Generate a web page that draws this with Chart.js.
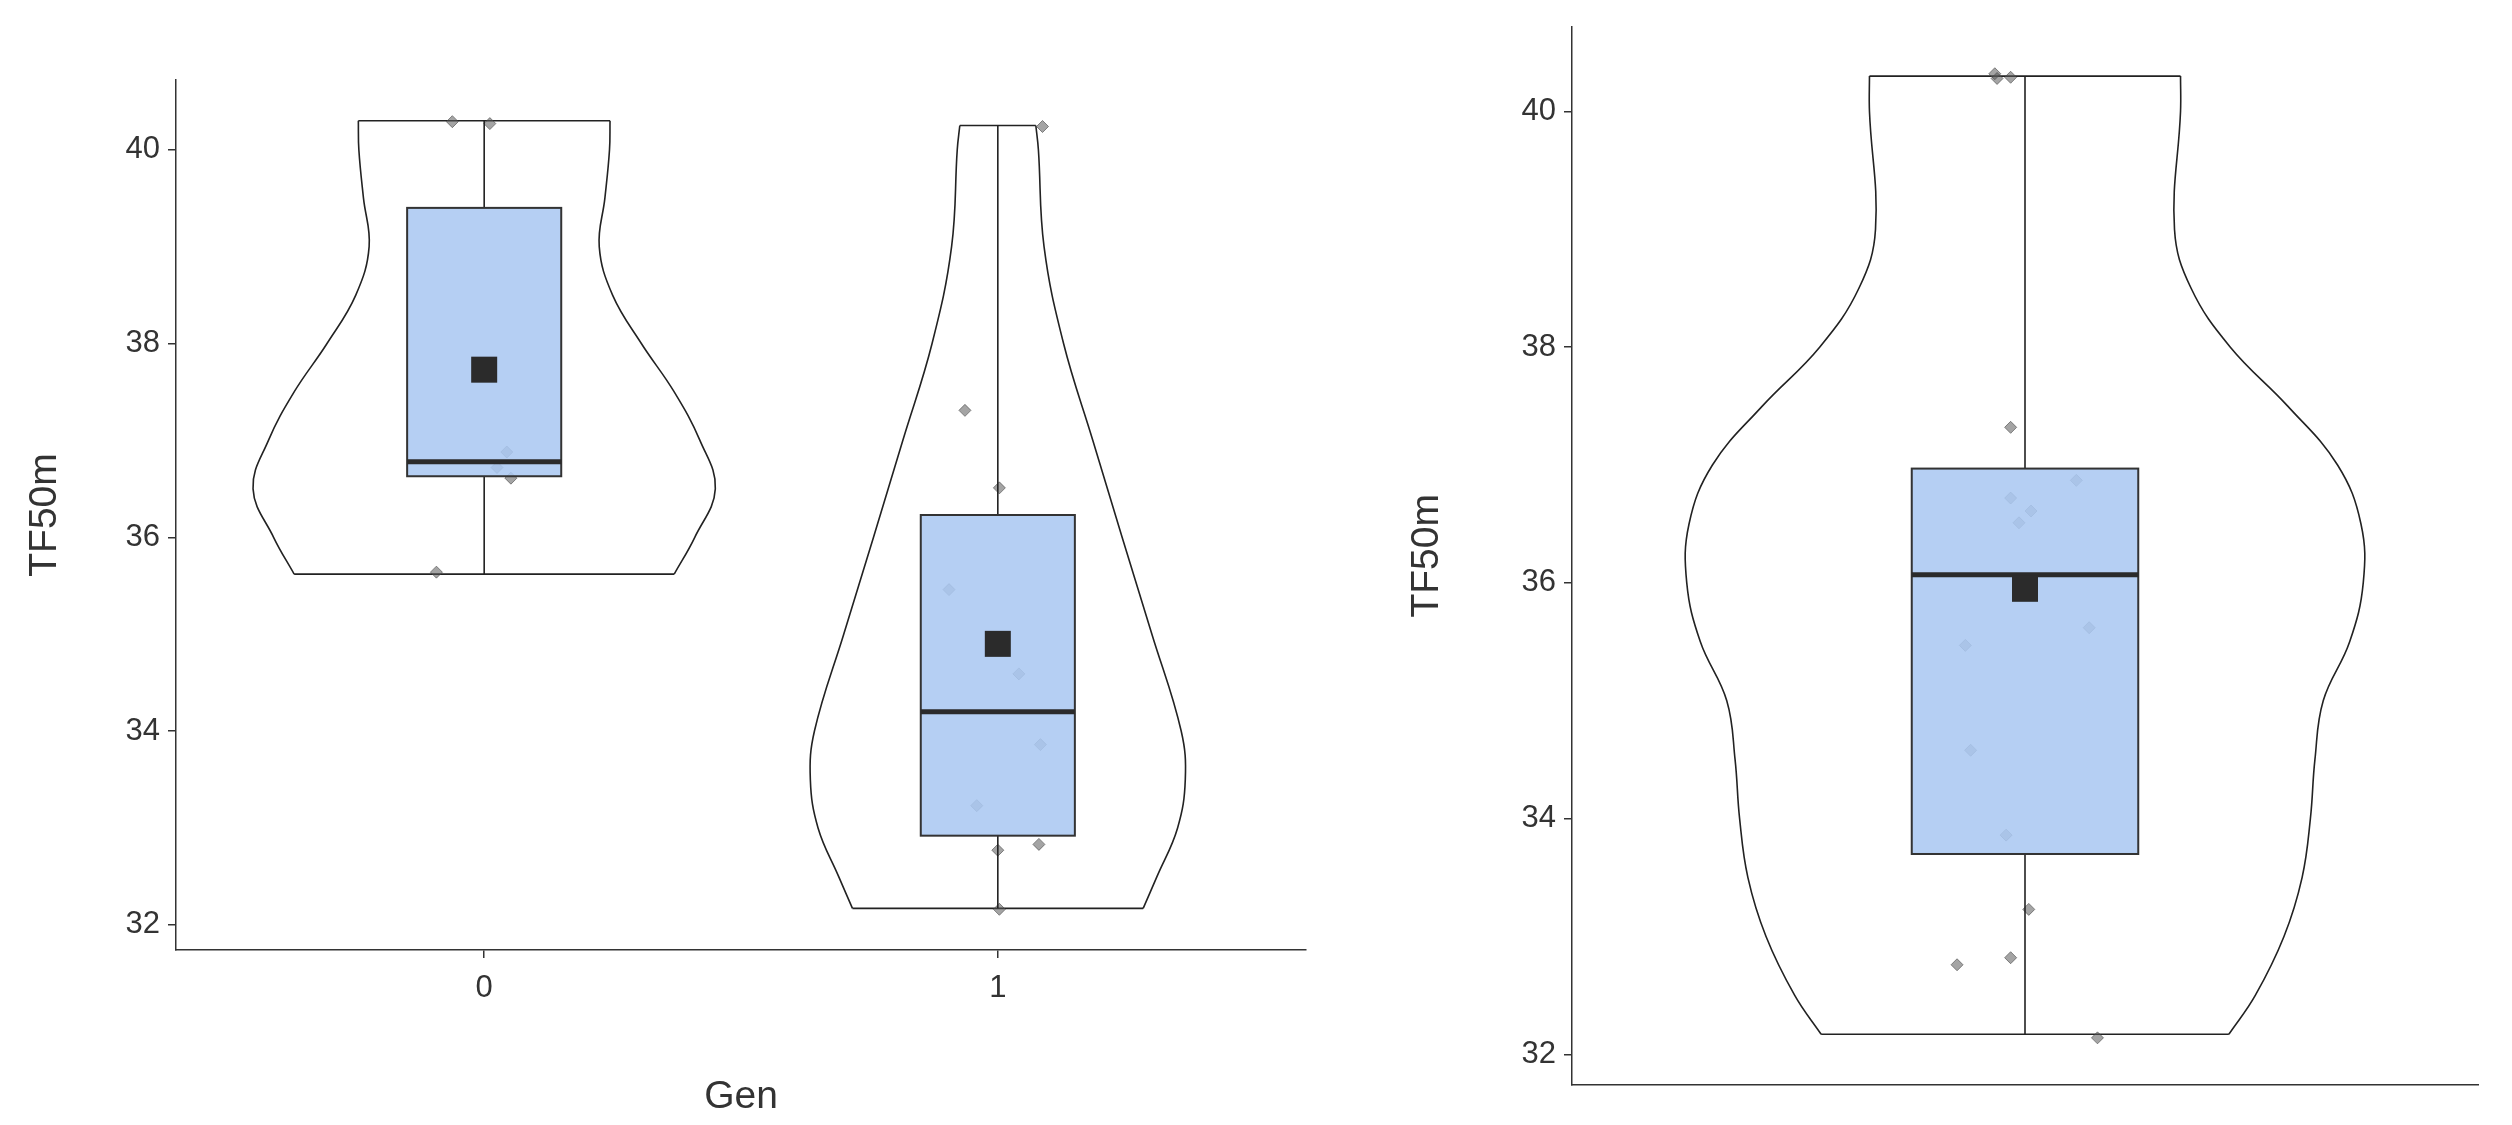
<!DOCTYPE html>
<html><head><meta charset="utf-8">
<script src="https://cdn.jsdelivr.net/npm/chart.js@4"></script>
<style>body{margin:0;background:#fff;width:2512px;height:1125px;overflow:hidden;position:relative;font-family:Arial,"Liberation Sans",sans-serif}
canvas{position:absolute;top:0}</style></head><body>
<canvas id="c1" style="left:0;width:1330px;height:1125px" width="1330" height="1125"></canvas>
<canvas id="c2" style="left:1340px;width:1172px;height:1125px" width="1172" height="1125"></canvas>
<script>
// ---- data ----
const categories = ["0", "1"];
const yTicks = [32, 34, 36, 38, 40];
// jittered points: x offsets and values
const gen0Values = [40.29, 40.27, 36.88, 36.72, 36.61, 35.64];
const gen0Jitter = [-0.062, 0.011, 0.044, 0.025, 0.052, -0.093];
const gen1Values = [40.24, 37.31, 36.51, 35.46, 34.59, 33.86, 33.23, 32.83, 32.77, 32.16];
const gen1Jitter = [0.087, -0.064, 0.003, -0.095, 0.041, 0.083, -0.041, 0.08, 0, 0.003];
const allValues = [40.32, 40.28, 40.29, 37.32, 36.87, 36.72, 36.61, 36.51, 35.62, 35.47, 34.58, 33.86, 33.23, 32.76, 32.82, 32.14];
const allJitter = [-0.04, -0.037, -0.019, -0.019, 0.068, -0.019, 0.008, -0.008, 0.085, -0.079, -0.072, -0.025, 0.005, -0.09, -0.019, 0.096];
// box stats: [whiskerLow, q1, median, q3, whiskerHigh, mean]
const gen0Box = [35.62, 36.63, 36.78, 39.4, 40.3, 37.73];
const gen1Box = [32.17, 32.92, 34.2, 36.23, 40.25, 34.9];
const allBox = [32.17, 33.7, 36.07, 36.97, 40.3, 35.95];
// violin half-widths at levels
const gen0ViolinY = [35.62, 36, 36.5, 37, 37.5, 38, 38.5, 39, 39.5, 40, 40.3];
const gen0ViolinW = [0.37, 0.41, 0.45, 0.42, 0.37, 0.306, 0.25, 0.224, 0.235, 0.244, 0.245];
const gen1ViolinY = [32.17, 32.5, 33, 33.5, 34, 35, 36, 37, 38, 39, 40, 40.25];
const gen1ViolinW = [0.283, 0.31, 0.35, 0.365, 0.357, 0.3, 0.242, 0.185, 0.128, 0.09, 0.079, 0.074];
const allViolinY = [32.17, 32.5, 33, 33.5, 34, 34.5, 35, 35.5, 36, 36.5, 37, 37.5, 38, 38.5, 39, 40, 40.3];
const allViolinW = [0.27, 0.305, 0.343, 0.367, 0.378, 0.384, 0.395, 0.43, 0.448, 0.445, 0.414, 0.348, 0.272, 0.22, 0.198, 0.206, 0.206];

const BOXW = 0.15;
function seg(data, tension){
  return {type:'line', data, borderColor:'#222', borderWidth:1.6, pointRadius:0, fill:false, tension, order:3};
}
function violin(c, ys, ws){
  const n = ys.length;
  return [
    seg(ys.map((y,i)=>({x:c+ws[i], y})), 0.4),
    seg(ys.map((y,i)=>({x:c-ws[i], y})), 0.4),
    seg([{x:c-ws[0], y:ys[0]}, {x:c+ws[0], y:ys[0]}], 0),
    seg([{x:c-ws[n-1], y:ys[n-1]}, {x:c+ws[n-1], y:ys[n-1]}], 0)
  ];
}
function pts(c, vals, jit){
  return {type:'scatter', data:vals.map((v,i)=>({x:c+jit[i], y:v})), pointStyle:'rectRot', pointRadius:6,
    backgroundColor:'rgba(90,90,90,0.55)', borderColor:'rgba(70,70,70,0.6)', borderWidth:1, order:2};
}
const boxPlugin = {
  id:'boxes',
  afterDatasetsDraw(chart){
    const ctx = chart.ctx, xs = chart.scales.x, ys = chart.scales.y;
    for (const [c, b] of chart.options.plugins.boxes.list){
      const xl = xs.getPixelForValue(c-BOXW), xr = xs.getPixelForValue(c+BOXW), xc = xs.getPixelForValue(c);
      const p = v => ys.getPixelForValue(v);
      ctx.save();
      ctx.strokeStyle='#222'; ctx.lineWidth=1.6;
      ctx.beginPath(); ctx.moveTo(xc,p(b[0])); ctx.lineTo(xc,p(b[1])); ctx.moveTo(xc,p(b[3])); ctx.lineTo(xc,p(b[4])); ctx.stroke();
      ctx.fillStyle='rgba(171,200,241,0.88)';
      ctx.fillRect(xl,p(b[3]),xr-xl,p(b[1])-p(b[3]));
      ctx.strokeStyle='#333'; ctx.lineWidth=2;
      ctx.strokeRect(xl,p(b[3]),xr-xl,p(b[1])-p(b[3]));
      ctx.lineWidth=5; ctx.strokeStyle='#2b2b2b';
      ctx.beginPath(); ctx.moveTo(xl,p(b[2])); ctx.lineTo(xr,p(b[2])); ctx.stroke();
      ctx.fillStyle='#2b2b2b';
      ctx.fillRect(xc-13,p(b[5])-13,26,26);
      ctx.restore();
    }
  }
};
const tickFont = {family:'Arial, Liberation Sans', size:31};
const titleFont = {family:'Arial, Liberation Sans', size:39};
function yAxis(width){
  return {type:'linear', min:31.74, max:40.72,
    afterBuildTicks:s=>{s.ticks=yTicks.map(v=>({value:v}));},
    afterFit:s=>{s.width=width;},
    ticks:{font:tickFont, color:'#333', padding:8},
    grid:{drawOnChartArea:false, drawTicks:true, tickLength:8, color:'#333', lineWidth:1.5},
    border:{display:true, color:'#333', width:1.5},
    title:{display:true, text:'TF50m', font:titleFont, color:'#333', padding:{bottom:12}}};
}
new Chart(document.getElementById('c1'), {
  data:{datasets:[...violin(0,gen0ViolinY,gen0ViolinW), ...violin(1,gen1ViolinY,gen1ViolinW),
    pts(0,gen0Values,gen0Jitter), pts(1,gen1Values,gen1Jitter)]},
  plugins:[boxPlugin],
  options:{responsive:false, animation:false, devicePixelRatio:1,
    layout:{padding:{top:80,right:24,left:18,bottom:0}},
    plugins:{legend:{display:false}, tooltip:{enabled:false}, boxes:{list:[[0,gen0Box],[1,gen1Box]]}},
    scales:{
      x:{type:'linear', min:-0.6, max:1.6,
        afterBuildTicks:s=>{s.ticks=categories.map((c,i)=>({value:i}));},
        afterFit:s=>{s.height=175;},
        ticks:{font:tickFont, color:'#333', callback:v=>categories[v], padding:12},
        grid:{drawOnChartArea:false, drawTicks:true, tickLength:8, color:'#333', lineWidth:1.5},
        border:{display:true, color:'#333', width:1.5},
        title:{display:true, text:'Gen', font:titleFont, color:'#333', padding:{top:22}}},
      y:yAxis(158)
    }}
});
new Chart(document.getElementById('c2'), {
  data:{datasets:[...violin(0,allViolinY,allViolinW), pts(0,allValues,allJitter)]},
  plugins:[boxPlugin],
  options:{responsive:false, animation:false, devicePixelRatio:1,
    layout:{padding:{top:24,right:34,left:60,bottom:0}},
    plugins:{legend:{display:false}, tooltip:{enabled:false}, boxes:{list:[[0,allBox]]}},
    scales:{
      x:{type:'linear', min:-0.6, max:0.6,
        afterFit:s=>{s.height=40;},
        ticks:{display:false},
        grid:{display:false},
        border:{display:true, color:'#333', width:1.5}},
      y:yAxis(172)
    }}
});
</script></body></html>
